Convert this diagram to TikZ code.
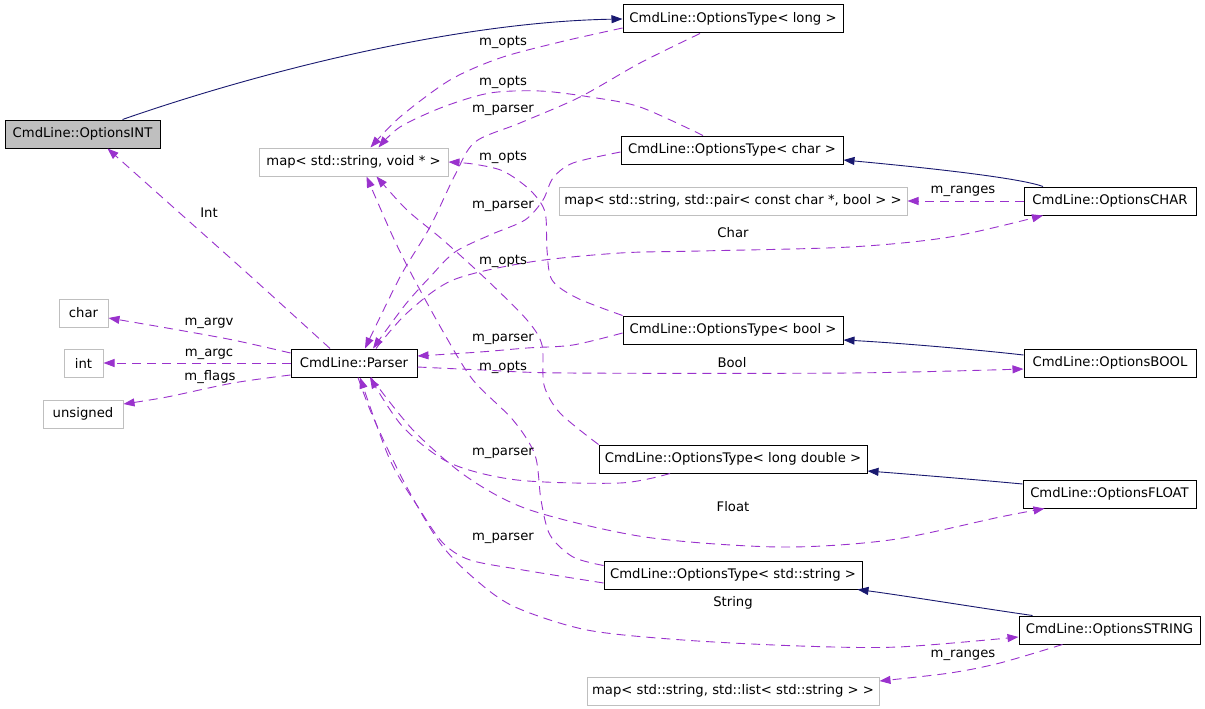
\documentclass[tikz,border=0pt]{standalone}
\usepackage{fontspec}
\setmainfont{DejaVu Sans}
\usetikzlibrary{arrows.meta}
\definecolor{purp}{HTML}{9A32CD}
\definecolor{navy}{HTML}{191970}
\definecolor{lgray}{HTML}{BFBFBF}
\begin{document}
\begin{tikzpicture}[x=1pt,y=-1pt,font=\fontsize{13.2}{15}\selectfont,
  cls/.style={draw=black,line width=1pt,minimum height=28pt,inner sep=0pt,fill=white},
  ext/.style={draw=lgray,line width=1pt,minimum height=28pt,inner sep=0pt,fill=white},
  focus/.style={cls,fill=lgray},
  inh/.style={draw=navy,line width=0.9pt,-{Triangle[length=11pt,width=8pt]}},
  rel/.style={draw=purp,line width=0.9pt,dash pattern=on 9pt off 6pt,-{Triangle[length=11pt,width=8pt]}},
  lbl/.style={inner sep=0pt}]
\useasboundingbox (0,0) rectangle (1205,709);
\fill[white] (0,0) rectangle (1205,709);
% nodes
\node[focus,minimum width=155pt] (INT) at (82.5,134) {CmdLine::OptionsINT};
\node[cls,minimum width=220pt] (long) at (733,19) {CmdLine::OptionsType< long >};
\node[ext,minimum width=189pt] (mapv) at (353.5,162) {map< std::string, void * >};
\node[cls,minimum width=222pt] (tchar) at (732,150) {CmdLine::OptionsType< char >};
\node[ext,minimum width=348pt] (mappair) at (733,201) {map< std::string, std::pair< const char *, bool > >};
\node[cls,minimum width=172pt] (CHAR) at (1110,201) {CmdLine::OptionsCHAR};
\node[ext,minimum width=49pt] (char) at (83.5,313) {char};
\node[ext,minimum width=39pt] (int) at (83.5,363) {int};
\node[ext,minimum width=80pt] (unsigned) at (83,414) {unsigned};
\node[cls,minimum width=126pt] (Parser) at (354,363) {CmdLine::Parser};
\node[cls,minimum width=220pt] (tbool) at (733,330) {CmdLine::OptionsType< bool >};
\node[cls,minimum width=172pt] (BOOL) at (1110,363) {CmdLine::OptionsBOOL};
\node[cls,minimum width=268pt] (tld) at (733,459) {CmdLine::OptionsType< long double >};
\node[cls,minimum width=173pt] (FLOAT) at (1109.5,494) {CmdLine::OptionsFLOAT};
\node[cls,minimum width=258pt] (tstr) at (733,575) {CmdLine::OptionsType< std::string >};
\node[cls,minimum width=181pt] (STRING) at (1109.5,630) {CmdLine::OptionsSTRING};
\node[ext,minimum width=292pt] (maplist) at (733,691) {map< std::string, std::list< std::string > >};
% inheritance
\draw[inh] ([xshift=40pt]INT.north) .. controls (250,75) and (450,22) .. (long.west);
\draw[inh] ([xshift=-67pt]CHAR.north) .. controls (1020,178) and (930,168) .. ([yshift=-10pt]tchar.east);
\draw[inh] ([yshift=8pt]BOOL.west) .. controls (980,350) and (900,343) .. ([yshift=-10pt]tbool.east);
\draw[inh] ([yshift=10pt]FLOAT.west) .. controls (980,480) and (920,475) .. ([yshift=-12pt]tld.east);
\draw[inh] ([xshift=-77pt]STRING.north) .. controls (980,608) and (900,595) .. ([xshift=-5pt]tstr.south east);
% relations
\draw[rel] plot[smooth] coordinates {([yshift=-9pt]long.west) (560,42) (500,58) (450,80) (400,117) ([xshift=17pt]mapv.north)};
\draw[rel] plot[smooth] coordinates {([xshift=-29pt]tchar.north) (640,107) (590,97) (540,91) (490,93) (443,107) (400,127) ([xshift=25pt]mapv.north)};
\draw[rel] plot[smooth] coordinates {([xshift=-33pt]long.south) (640,63) (580,97) (520,123) (475,142) (455,175) (430,227) (400,277) ([xshift=11pt]Parser.north)};
\draw[rel] plot[smooth] coordinates {(tbool.north west) (577,298) (552,280) (547,250) (545,212) (530,190) (503,171) (473,164) (mapv.east)};
\draw[rel] plot[smooth] coordinates {([yshift=-2pt]tchar.west) (573,163) (553,178) (543,200) (525,220) (490,235) (455,252) (430,277) (405,305) ([xshift=19pt]Parser.north)};
\draw[rel] plot[smooth] coordinates {([xshift=22pt]Parser.north) (407,313) (453,280) (530,262) (620,253) (700,251) (850,247) (950,237) ([xshift=-67pt]CHAR.south)};
\draw[rel] plot[smooth] coordinates {([xshift=-24pt]Parser.north) (247,273) (173,207) ([xshift=25pt]INT.south)};
\draw[rel] plot[smooth] coordinates {([yshift=-5pt]tstr.north west) (573,557) (550,535) (541,500) (535,455) (513,420) (473,380) (445,335) (413,277) (393,237) ([xshift=13pt]mapv.south)};
\draw[rel] plot[smooth] coordinates {(tld.north west) (560,413) (544,385) (542,345) (527,320) (487,280) (443,240) (407,210) ([xshift=23pt]mapv.south)};
\draw[rel] plot[smooth] coordinates {([yshift=-3pt]tbool.west) (573,345) (527,348) (480,352) ([yshift=7pt]Parser.east)};
\draw[rel] plot[smooth] coordinates {([yshift=-4pt]Parser.east) (483,370) (567,373) (850,373) ([yshift=-6pt]BOOL.west)};
\draw[rel] plot[smooth] coordinates {([yshift=10pt]Parser.west) (233,340) (167,328) ([yshift=-5pt]char.east)};
\draw[rel] (Parser.west) -- (int.east);
\draw[rel] plot[smooth] coordinates {([yshift=-12pt]Parser.west) (233,383) (167,397) ([yshift=10pt]unsigned.east)};
\draw[rel] plot[smooth] coordinates {([xshift=-63pt]tld.south) (620,483) (517,480) (450,463) (403,427) ([xshift=16pt]Parser.south)};
\draw[rel] plot[smooth] coordinates {([yshift=-8pt]tstr.west) (523,570) (470,560) (443,543) (420,510) (390,460) ([xshift=6pt]Parser.south)};
\draw[rel] plot[smooth] coordinates {([xshift=4pt]Parser.south) (373,417) (403,480) (440,543) (476,580) (515,607) (587,630) (683,640) (800,646) (898,647) ([yshift=-7pt]STRING.west)};
\draw[rel] plot[smooth] coordinates {([xshift=17pt]Parser.south) (413,430) (467,477) (530,510) (645,537) (779,547) (890,540) (1000,517) ([xshift=-65pt]FLOAT.south)};
\draw[rel] (CHAR.west) -- (mappair.east);
\draw[rel] plot[smooth] coordinates {([xshift=-47pt]STRING.south) (1000,663) (950,673) ([yshift=10pt]maplist.east)};
% labels
\node[lbl] (l1) at (503,42) {m\_opts};
\node[lbl] (l2) at (503,82) {m\_opts};
\node[lbl] (l3) at (503,110) {m\_parser};
\node[lbl] (l4) at (503,157) {m\_opts};
\node[lbl] (l5) at (503,206) {m\_parser};
\node[lbl] (l6) at (733,233) {Char};
\node[lbl] (l7) at (503,261) {m\_opts};
\node[lbl] (l8) at (209,323) {m\_argv};
\node[lbl] (l9) at (209,354) {m\_argc};
\node[lbl] (l10) at (210,377) {m\_flags};
\node[lbl] (l11) at (503,339) {m\_parser};
\node[lbl] (l12) at (732,363) {Bool};
\node[lbl] (l13) at (503,367) {m\_opts};
\node[lbl] (l14) at (503,453) {m\_parser};
\node[lbl] (l15) at (733,507) {Float};
\node[lbl] (l16) at (503,538) {m\_parser};
\node[lbl] (l17) at (733,603) {String};
\node[lbl] (l18) at (209,213) {Int};
\node[lbl] (l19) at (963,191) {m\_ranges};
\node[lbl] (l20) at (963,655) {m\_ranges};
\end{tikzpicture}
\end{document}
